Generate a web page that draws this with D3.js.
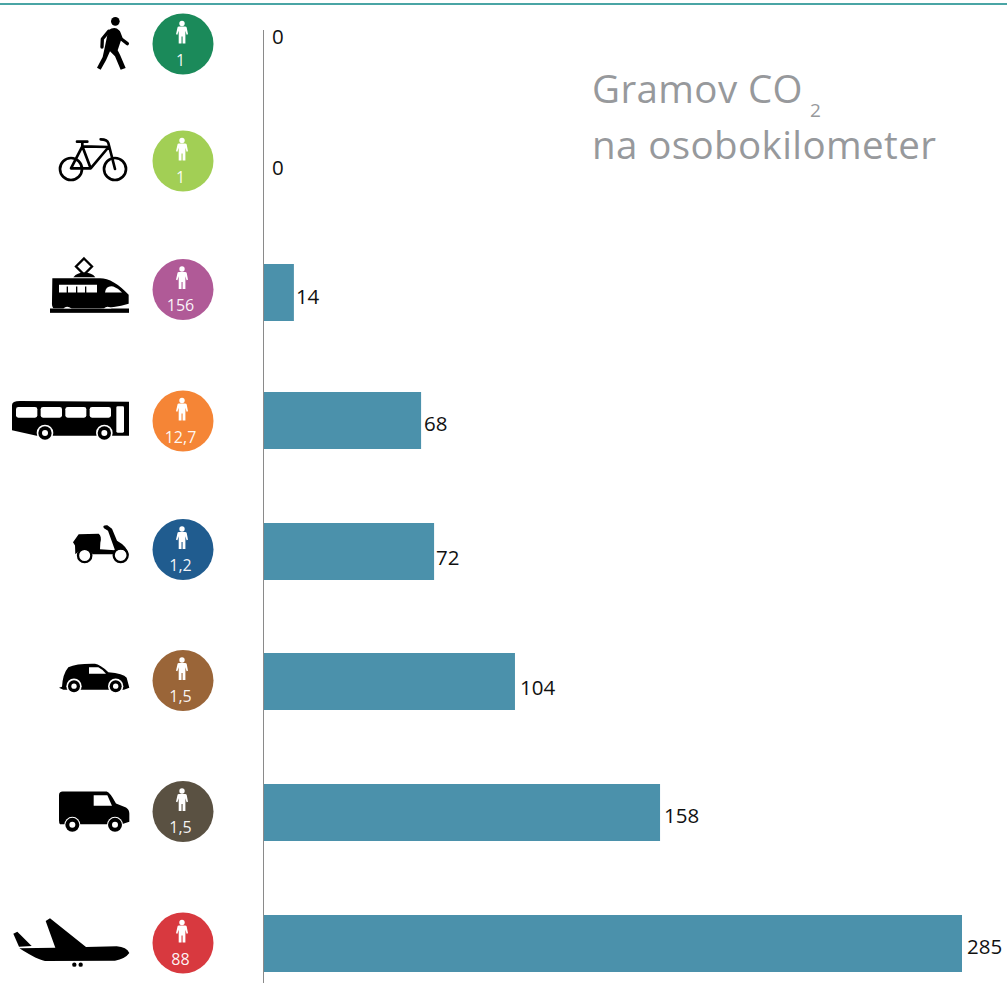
<!DOCTYPE html>
<html><head><meta charset="utf-8">
<script src="https://cdn.jsdelivr.net/npm/d3@7/dist/d3.min.js"></script>
<style>html,body{margin:0;padding:0;background:#fff;overflow:hidden}svg{display:block}text{font-family:"Open Sans",sans-serif}</style>
</head><body><div id="chart"></div>
<script>
// DATA
const categories = ["walk","bike","train","bus","scooter","car","van","plane"];
const printedValues = ["0","0","14","68","72","104","158","285"];
const drawnValues = [0,0,12.4,64.3,69.6,102.6,161.8,285];   // as measured from the bar lengths in the picture
const occupancy = ["1","1","156","12,7","1,2","1,5","1,5","88"];
const circleColors = ["#1b8a5a","#a2cf55","#b05a97","#f58536","#205c8f","#9a6538","#5a5142","#d8393f"];
const titleLines = ["Gramov CO","na osobokilometer"];
const titleSub = "2";

// LAYOUT
const W = 1007, H = 983;
const x = d3.scaleLinear().domain([0,285]).range([263.5,962]);
const barY = d3.scaleOrdinal(categories,[0,0,264,392,523,653,784,915]);
const circleY = d3.scaleOrdinal(categories,[44,161,289.5,421,549.5,680.5,811.5,943]);
const labelBase = d3.scaleOrdinal(categories,[44,175,304,431,565,695,823,954]);
const labelGap = d3.scaleOrdinal(categories,[8.5,8.5,2,3,2,5,4,5]);
const BAR_H = 57, CIRCLE_X = 183, CIRCLE_R = 30.5;

const svg = d3.select("#chart").append("svg").attr("width",W).attr("height",H);
svg.append("rect").attr("x",0).attr("y",3).attr("width",W).attr("height",2).attr("fill","#4aa5a5");

// bars
svg.selectAll("rect.bar").data(categories.map((c,i)=>({c,v:drawnValues[i]})).filter(d=>d.v>0)).join("rect")
  .attr("class","bar").attr("x",x(0)).attr("y",d=>barY(d.c)).attr("height",BAR_H)
  .attr("width",d=>x(d.v)-x(0)).attr("fill","#4b91ab");
svg.append("line").attr("x1",x(0)).attr("x2",x(0)).attr("y1",30).attr("y2",H).attr("stroke","#8a8a8a").attr("stroke-width",1);

// value labels
svg.selectAll("text.val").data(categories).join("text").attr("class","val")
  .attr("x",(c,i)=>x(drawnValues[i])+labelGap(c)).attr("y",c=>labelBase(c))
  .attr("font-size",20.5).attr("fill","#111").text((c,i)=>printedValues[i]);

// occupancy circles
const g = svg.selectAll("g.occ").data(categories).join("g").attr("class","occ")
  .attr("transform",c=>`translate(${CIRCLE_X},${circleY(c)})`);
g.append("circle").attr("r",CIRCLE_R).attr("fill",(c,i)=>circleColors[i]);
g.append("circle").attr("cx",-1).attr("cy",-20.5).attr("r",2.7).attr("fill","#fff");
g.append("path").attr("fill","#fff").attr("d","M-5.5 -16.5Q-5.5 -17.5 -4 -17.5L2 -17.5Q3.5 -17.5 3.7 -16.5L5 -9.8L3.6 -9.2L2.4 -13.2L2.4 -0.5L-0.4 -0.5L-0.4 -7.5L-1.5 -7.5L-1.5 -0.5L-4.3 -0.5L-4.3 -13.2L-5.6 -9.2L-7 -9.8Z");
g.append("text").attr("x",-2.5).attr("y",21.5).attr("text-anchor","middle").attr("fill","#fff")
  .attr("font-size",16).attr("fill-opacity",0.95).text((c,i)=>occupancy[i]);

// pictograms (drawn at 3x about the row's circle centre)
const W_ = (cx,cy,r1,r2,r3)=>`<circle cx="${cx}" cy="${cy}" r="${r1}" fill="#fff"/><circle cx="${cx}" cy="${cy}" r="${r2}" fill="#000"/><circle cx="${cx}" cy="${cy}" r="${r3}" fill="#fff"/>`;
const icons = {
 walk:{cy:133,svg:`<circle cx="346" cy="65" r="13"/>
  <path d="M325 92Q345 78 357 92L363 122L353 152L360 165L377 205L362 210L345 170L330 155L318 182L302 210L291 204L308 172L315 140Z"/>
  <path d="M326 95L307 118L306 142M356 98L364 118L382 132" fill="none" stroke="#000" stroke-width="10" stroke-linecap="round" stroke-linejoin="round"/>`},
 bike:{cy:484,svg:`<g fill="none" stroke="#000" stroke-width="8" stroke-linecap="round" stroke-linejoin="round">
  <circle cx="213" cy="508" r="33"/><circle cx="345" cy="508" r="33"/>
  <path d="M247 440L326 442L272 506L213 506L247 440L272 506M345 508L325 430Q322 419 302 419M231 426L262 426M247 428L247 440"/></g>`},
 train:{cy:869,svg:`<path d="M252 776L276 800L252 824L228 800Z" fill="none" stroke="#000" stroke-width="7"/>
  <path d="M220 832Q232 818 252 818Q275 818 286 832Z"/>
  <path d="M157 835L300 835Q340 835 386 885L386 912Q340 925 300 925L335 925L160 925Q155 920 156 905Z"/>
  <rect x="150" y="926" width="237" height="13"/>
  <path d="M177 855H291V878H259V860H255V878H232V860H228V878H204V860H200V878H177Z" fill="#fff"/>
  <path d="M315 878Q318 856 340 860Q352 864 366 878Z" fill="#fff"/>
  <path d="M190 926Q200 915 215 926ZM312 926Q322 915 335 926Z" fill="#fff"/>`},
 bus:{cy:124,svg:`<path d="M36 76Q36 64 60 64L387 66L387 168L110 168L36 152Z"/>
  <rect x="48" y="82" width="64" height="32" rx="7" fill="#fff"/><rect x="122" y="82" width="64" height="32" rx="7" fill="#fff"/>
  <rect x="196" y="82" width="63" height="32" rx="7" fill="#fff"/><rect x="269" y="82" width="64" height="32" rx="7" fill="#fff"/>
  <rect x="349" y="80" width="23" height="79" rx="4" fill="#fff"/>
  ${W_(135,160,25,20,9)}${W_(313,160,25,20,9)}`},
 scooter:{cy:508,svg:`<circle cx="254" cy="526" r="20" fill="none" stroke="#000" stroke-width="7"/><circle cx="362" cy="525" r="21" fill="none" stroke="#000" stroke-width="7"/>
  <path d="M236 462L296 461Q306 468 301 488L300 507L345 510L324 452L312 444Q305 434 322 435L336 446L351 482Q384 500 387 526L372 510Q350 505 342 522L278 522Q268 505 240 510L226 522L225 496L219 486Z"/>`},
 car:{cy:900,svg:`<path d="M177 922L186 919Q188 880 205 860Q230 849 285 850Q300 852 325 875Q370 878 380 892L388 922L372 928L190 928Z"/>
  <path d="M267 860L295 860Q308 866 318 880L267 880Z" fill="#fff"/>
  ${W_(222,917,23,18,8)}${W_(347,917,23,18,8)}`},
 van:{cy:124,svg:`<path d="M188 64L320 64Q330 66 348 100L378 112Q388 118 388 130L388 155L365 162L180 162Q177 160 177 150L177 75Q177 64 188 64Z"/>
  <path d="M281 75L322 75L336 107L281 107Z" fill="#fff"/>
  ${W_(217,164,24,21,9)}${W_(345,164,24,21,9)}`},
 plane:{cy:518,svg:`<path d="M40 490L52 484L95 527L57 529Z"/>
  <path d="M58 534L166 532L137 452L150 444L258 530L350 528Q380 530 388 548Q375 566 345 571L135 572Q115 570 58 534Z"/>
  <circle cx="223" cy="583" r="6.5"/><circle cx="242" cy="583" r="6.5"/>`}
};
svg.selectAll("g.icon").data(categories).join("g").attr("class","icon")
  .attr("transform",c=>`translate(0,${circleY(c)}) scale(${1/3}) translate(0,${-icons[c].cy})`)
  .html(c=>icons[c].svg);

// title
const t = svg.append("g").attr("fill","#97999c");
t.append("text").attr("x",592).attr("y",103).attr("font-size",38.5).attr("letter-spacing",0.4).text(titleLines[0]);
t.append("text").attr("x",810).attr("y",117).attr("font-size",19).text(titleSub);
t.append("text").attr("x",592).attr("y",159).attr("font-size",38.5).attr("letter-spacing",0.4).text(titleLines[1]);
</script></body></html>
